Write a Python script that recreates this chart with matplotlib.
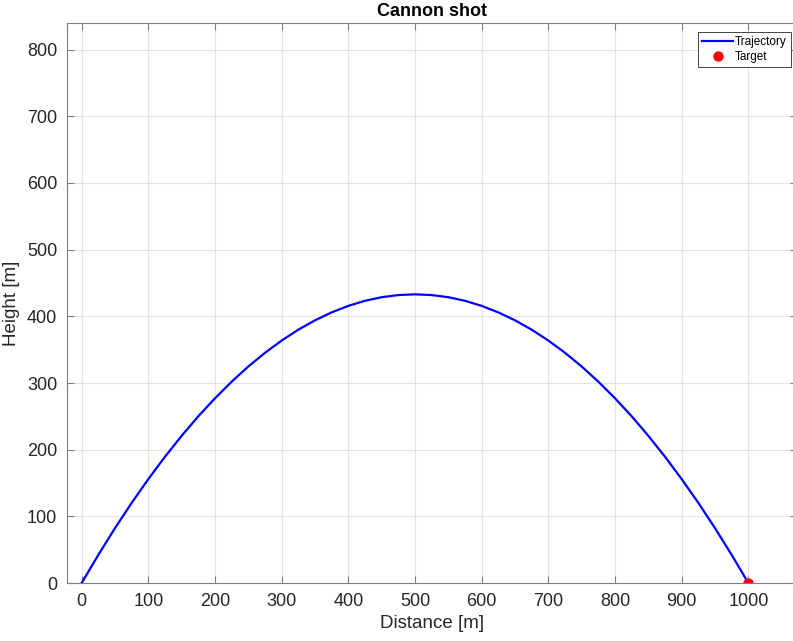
import matplotlib.pyplot as plt

plt.rcParams['font.family'] = ['Liberation Sans', 'DejaVu Sans']

# Trajectory (every 25 m)
distance = [0, 25, 50, 75, 100, 125, 150, 175, 200, 225, 250, 275, 300, 325, 350,
            375, 400, 425, 450, 475, 500, 525, 550, 575, 600, 625, 650, 675, 700,
            725, 750, 775, 800, 825, 850, 875, 900, 925, 950, 975, 1000]
height = [0, 42.2, 82.3, 120.2, 155.9, 189.4, 220.8, 250.1, 277.1, 302.0, 324.8,
          345.3, 363.7, 380.0, 394.0, 405.9, 415.7, 423.3, 428.7, 431.9, 433.0,
          431.9, 428.7, 423.3, 415.7, 405.9, 394.0, 380.0, 363.7, 345.3, 324.8,
          302.0, 277.1, 250.1, 220.8, 189.4, 155.9, 120.2, 82.3, 42.2, 0]
target_x = [1000]
target_y = [0]
xticks = [0, 100, 200, 300, 400, 500, 600, 700, 800, 900, 1000]
yticks = [0, 100, 200, 300, 400, 500, 600, 700, 800]

fig = plt.figure(figsize=(7.93, 6.41), dpi=100)
ax = fig.add_axes([67 / 793, 58 / 641, 730 / 793, 560 / 641])

ax.plot(distance, height, color='#0000ff', lw=1.6, label='Trajectory')
ax.plot(target_x, target_y, 'o', color='#ff0000', ms=6.5, label='Target')

ax.set_xlim(-22, 1073)
ax.set_ylim(0, 840)
ax.set_xticks(xticks)
ax.set_yticks(yticks)
ax.grid(True, color='#e3e3e3', lw=0.8)
ax.set_axisbelow(True)

dark = '#262626'
for s in ax.spines.values():
    s.set_color('#7f7f7f')
    s.set_linewidth(0.8)
ax.tick_params(direction='in', top=True, right=True, length=5, width=0.8,
               color='#7f7f7f', labelsize=13, labelcolor=dark, pad=7)

ax.set_xlabel('Distance [m]', fontsize=13.5, color=dark, labelpad=4)
ax.set_ylabel('Height [m]', fontsize=13.5, color=dark)
ax.yaxis.set_label_coords(-0.064, 0.5)
ax.set_title('Cannon shot', fontsize=13, fontweight='bold', color='black', pad=5)

leg = ax.legend(loc='upper right', fontsize=8.5, fancybox=False, framealpha=1,
                edgecolor='#262626', borderpad=0.35, handlelength=2.6,
                handletextpad=0.2, labelspacing=0.25, borderaxespad=0.5,
                bbox_to_anchor=(1.0, 0.995))
leg.get_frame().set_linewidth(0.6)

fig.savefig('out.png', dpi=100)
